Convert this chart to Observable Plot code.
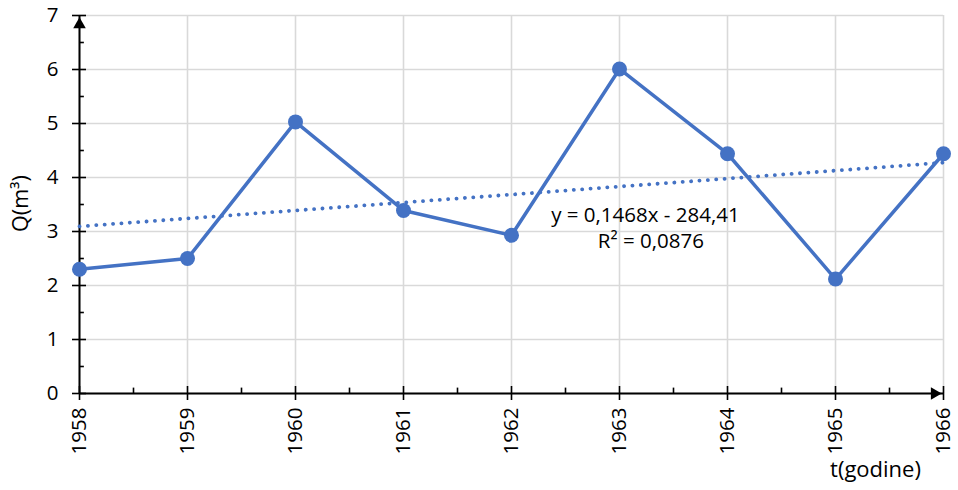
<!DOCTYPE html>
<html>
<head>
<meta charset="utf-8">
<script src="https://cdn.jsdelivr.net/npm/d3@7"></script>
<script src="https://cdn.jsdelivr.net/npm/@observablehq/plot@0.6"></script>
<style>
  html, body { margin: 0; padding: 0; background: #fff; }
  svg { font-family: "Open Sans", sans-serif; }
</style>
</head>
<body>
<div id="chart"></div>
<script>
const years = [1958, 1959, 1960, 1961, 1962, 1963, 1964, 1965, 1966];
const flows = [2.3, 2.5, 5.03, 3.39, 2.93, 6.01, 4.44, 2.12, 4.44];
const yTicks = [0, 1, 2, 3, 4, 5, 6, 7];
const yMinor = [0.5, 1.5, 2.5, 3.5, 4.5, 5.5, 6.5];
const xMinor = [1958.5, 1959.5, 1960.5, 1961.5, 1962.5, 1963.5, 1964.5, 1965.5];
const eqText = "y = 0,1468x - 284,41";
const r2Text = "R² = 0,0876";
const yLabel = "Q(m³)";
const xLabel = "t(godine)";

const data = years.map((t, i) => ({t, q: flows[i]}));
const blue = "#4472c4";
const FS = 20.5;

const chart = Plot.plot({
  width: 958,
  height: 490,
  marginLeft: 79,
  marginRight: 15,
  marginTop: 15,
  marginBottom: 97,
  style: {fontSize: FS + "px", fontFamily: "'Open Sans', sans-serif", color: "#000"},
  x: {domain: [1958, 1966]},
  y: {domain: [0, 7]},
  marks: [
    Plot.gridX(years, {stroke: "#d9d9d9", strokeOpacity: 1, strokeWidth: 1.6}),
    Plot.gridY(yTicks, {stroke: "#d9d9d9", strokeOpacity: 1, strokeWidth: 1.6}),
    Plot.axisX(years, {tickSize: 7, tickPadding: 7, tickRotate: -90, tickFormat: d => String(d), label: null, strokeWidth: 1.6, fontSize: FS}),
    Plot.axisY(yTicks, {tickSize: 7, tickPadding: 14, tickFormat: d => String(d), label: null, strokeWidth: 1.6, fontSize: FS}),
    // inner halves of major ticks
    Plot.ruleX(years, {x: d => d, y1: 0, y2: 0.13, stroke: "#000", strokeWidth: 1.6}),
    Plot.ruleY(yTicks, {y: d => d, x1: 1958, x2: 1958.065, stroke: "#000", strokeWidth: 1.6}),
    // minor ticks
    Plot.ruleX(xMinor, {x: d => d, y1: 0, y2: 0.1, stroke: "#000", strokeWidth: 1.6}),
    Plot.ruleY(yMinor, {y: d => d, x1: 1958, x2: 1958.045, stroke: "#000", strokeWidth: 1.6}),
    // axis lines
    Plot.ruleY([0], {x1: 1958, x2: 1966, stroke: "#000", strokeWidth: 2}),
    Plot.ruleX([1958], {y1: 0, y2: 7, stroke: "#000", strokeWidth: 2}),
    // arrowheads
    Plot.dot([{t: 1966, q: 0}], {x: "t", y: "q", symbol: "triangle2", r: 6, rotate: 90, dx: -9, fill: "#000", stroke: null}),
    Plot.dot([{t: 1958, q: 7}], {x: "t", y: "q", symbol: "triangle2", r: 6, dy: 9, fill: "#000", stroke: null}),
    // data
    Plot.line(data, {x: "t", y: "q", stroke: blue, strokeWidth: 3.5}),
    Plot.dot(data, {x: "t", y: "q", r: 7.5, fill: blue, stroke: null}),
    Plot.linearRegressionY(data, {x: "t", y: "q", ci: 0, stroke: blue, strokeWidth: 3.8, strokeDasharray: "0.1 8.3", strokeLinecap: "round"}),
    // annotations
    Plot.text([eqText], {x: 1963.24, y: 3.3, text: d => d, fontSize: FS, fill: "#000"}),
    Plot.text([r2Text], {x: 1963.29, y: 2.82, text: d => d, fontSize: FS, fill: "#000"}),
    Plot.text([yLabel], {frameAnchor: "left", textAnchor: "middle", lineAnchor: "middle", dx: -58, dy: -1, rotate: -90, text: d => d, fontSize: FS + 1, fill: "#000"}),
    Plot.text([xLabel], {frameAnchor: "bottom-right", textAnchor: "middle", lineAnchor: "middle", dx: -68, dy: 76, text: d => d, fontSize: FS + 1.5, fill: "#000"})
  ]
});
document.getElementById("chart").appendChild(chart);
</script>
</body>
</html>
